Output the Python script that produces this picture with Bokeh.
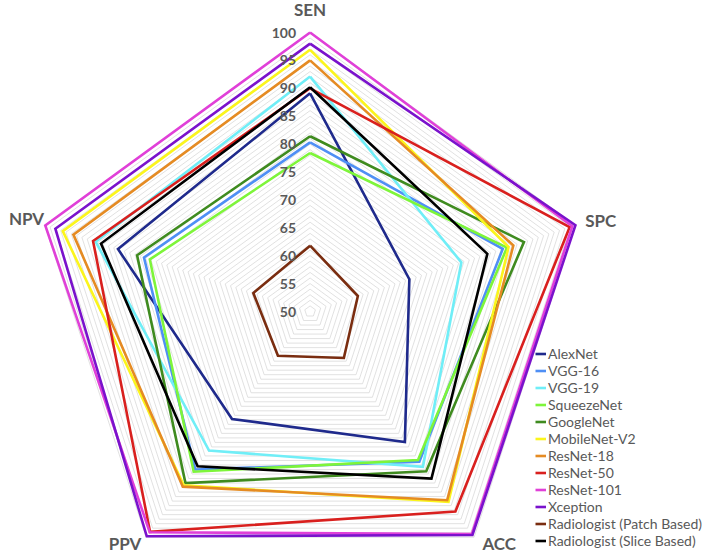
import numpy as np
from bokeh.plotting import figure
from bokeh.models import Legend, LegendItem
from bokeh.core.properties import value
from bokeh.embed import file_html
from bokeh.resources import INLINE

# ---------------- data ----------------
categories = ["SEN", "SPC", "ACC", "PPV", "NPV"]

series_names = ["AlexNet", "VGG-16", "VGG-19", "SqueezeNet", "GoogleNet",
                "MobileNet-V2", "ResNet-18", "ResNet-50", "ResNet-101",
                "Xception", "Radiologist (Patch Based)", "Radiologist (Slice Based)"]

alexnet      = [89.1, 68.7, 78.9, 73.8, 86.2]
vgg16        = [80.3, 86.3, 83.3, 85.0, 81.3]
vgg19        = [92.1, 78.5, 84.4, 80.8, 90.4]
squeezenet   = [78.4, 87.1, 82.9, 85.5, 80.2]
googlenet    = [81.4, 90.3, 85.4, 88.0, 82.6]
mobilenet_v2 = [96.9, 87.4, 92.2, 88.5, 96.6]
resnet18     = [95.0, 88.3, 91.8, 88.8, 94.6]
resnet50     = [90.0, 98.9, 94.3, 98.8, 90.9]
resnet101    = [100.0, 99.4, 99.3, 98.9, 99.9]
xception     = [98.0, 100.0, 99.5, 99.8, 98.0]
radiologist_patch = [61.8, 59.0, 60.3, 59.8, 60.7]
radiologist_slice = [90.2, 83.4, 87.0, 84.3, 89.4]

series_values = [alexnet, vgg16, vgg19, squeezenet, googlenet, mobilenet_v2,
                 resnet18, resnet50, resnet101, xception,
                 radiologist_patch, radiologist_slice]

series_colors = ["#1f2a8c", "#4f8ff5", "#70eef7", "#7ef53a", "#3f8b1f",
                 "#fbf51c", "#e58b23", "#d9201e", "#e040d8", "#7a12cc",
                 "#7a2d10", "#000000"]

tick_values = [50, 55, 60, 65, 70, 75, 80, 85, 90, 95, 100]
tick_labels = [str(v) for v in tick_values]

r_min, r_max = 50, 100
grid_levels = list(range(51, 101))

# ---------------- geometry ----------------
angles = np.deg2rad([90, 18, -54, -126, 162])


def to_xy(vals):
    r = np.asarray(vals, dtype=float) - r_min
    xs = list(r * np.cos(angles))
    ys = list(r * np.sin(angles))
    return xs + [xs[0]], ys + [ys[0]]


ppu = 5.58           # pixels per unit
W, H = 705, 553
cx, cy = 309.6, 311.0  # centre in frame pixels (from left / top)

p = figure(width=W, height=H,
           x_range=(-cx / ppu, (W - cx) / ppu),
           y_range=(-(H - cy) / ppu, cy / ppu),
           output_backend="svg", toolbar_location=None, min_border=0)
p.axis.visible = False
p.grid.visible = False
p.outline_line_color = None
p.background_fill_color = "white"
p.border_fill_color = "white"

# grid pentagons
gx, gy = [], []
for lv in grid_levels:
    x, y = to_xy([lv] * 5)
    gx.append(x)
    gy.append(y)
p.multi_line(xs=gx, ys=gy, line_color="#d9d9d9", line_width=0.8)

# series
items = []
for name, vals, col in zip(series_names, series_values, series_colors):
    x, y = to_xy(vals)
    r = p.line(x, y, line_color=col, line_width=2.6, line_join="miter")
    items.append(LegendItem(label=name, renderers=[r]))

# radial tick labels
p.text(x=[0] * len(tick_values), y=[v - r_min for v in tick_values], text=tick_labels,
       x_offset=-14, text_align="right", text_baseline="middle",
       text_font=value("Lato"), text_font_style="bold", text_font_size="14px",
       text_color="#595959")

# category labels
lab_r = 54
lab_x = list(lab_r * np.cos(angles))
lab_y = list(lab_r * np.sin(angles))
lab_dx = [0, 4, 12, -8, 3]
lab_dy = [-1, 2, -12, -12, 0]
p.text(x=lab_x, y=lab_y, text=categories, x_offset=lab_dx, y_offset=lab_dy,
       text_align="center", text_baseline="middle",
       text_font=value("Lato"), text_font_style="bold", text_font_size="17px",
       text_color="#595959")

legend = Legend(items=items, location=(535, 4),
                border_line_color=None, background_fill_alpha=0,
                label_text_font="Lato", label_text_font_size="14px",
                label_text_color="#595959",
                glyph_width=11, glyph_height=17, label_height=17,
                spacing=0, padding=0, margin=0, label_standoff=2)
p.add_layout(legend)

open("out.html", "w").write(file_html(p, INLINE))
